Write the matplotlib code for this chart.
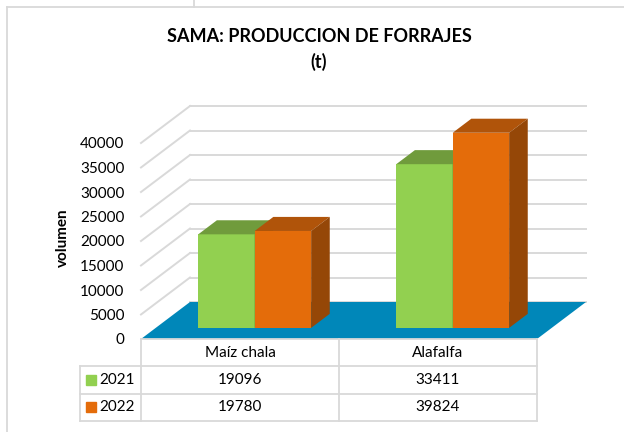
import numpy as np
import matplotlib.pyplot as plt
from matplotlib.patches import Polygon
from matplotlib.lines import Line2D

plt.rcParams['font.family'] = ['Lato', 'DejaVu Sans']

categories = ["Maíz chala", "Alafalfa"]
years = ["2021", "2022"]
values_2021 = [19096, 33411]
values_2022 = [19780, 39824]
yticks = list(range(0, 40001, 5000))

series = [values_2021, values_2022]
front_col = ["#92D050", "#E46C0A"]
top_col = ["#709B3C", "#B0540A"]
side_col = ["#5E8A2C", "#954707"]
grid_col = "#D9D9D9"

W, H = 624, 432
fig = plt.figure(figsize=(W / 100, H / 100), dpi=100)

# pixel -> data scales (floor front edge at y=339 px, 198 px per category)
px_x = 1 / 198
px_v = 40000 / 196
DX, DY = 49 * px_x, 37 * px_v

ax = fig.add_axes([141 / W, (H - 339) / H, (585 - 141) / W, (339 - 105) / H])
ax.set_xlim(-0.5, -0.5 + (585 - 141) * px_x)
ax.set_ylim(0, (339 - 105) * px_v)
for s in ax.spines.values():
    s.set_visible(False)
ax.set_xticks([])
ax.set_yticks(yticks)
ax.tick_params(axis="y", length=0, pad=12, labelsize=11)

# walls
n = len(categories)
for v in yticks:
    ax.plot([-0.5 + DX, n - 0.5 + DX], [v + DY, v + DY], color=grid_col, lw=1.4, zorder=1, clip_on=False)
    if v > 0:
        ax.plot([-0.5, -0.5 + DX], [v, v + DY], color=grid_col, lw=1.4, zorder=1, clip_on=False)

# floor
ax.add_patch(Polygon([(-0.5, 0), (n - 0.5, 0), (n - 0.5 + DX, DY), (-0.5 + DX, DY)],
                     closed=True, color="#0087B9", lw=0, zorder=2, clip_on=False))

# 3d columns
w = 0.285
f0, f1 = 0.30, 0.68
bd = f1 - f0
z = 3
for i in range(n):
    for s, vals in enumerate(series):
        val = vals[i]
        x0 = i - w + s * w + f0 * DX
        y0 = f0 * DY
        ax.bar(x0, val, w, bottom=y0, align="edge", color=front_col[s], lw=0, zorder=z, clip_on=False)
        top = [(x0, y0 + val), (x0 + w, y0 + val),
               (x0 + w + bd * DX, y0 + val + bd * DY), (x0 + bd * DX, y0 + val + bd * DY)]
        side = [(x0 + w, y0), (x0 + w, y0 + val),
                (x0 + w + bd * DX, y0 + val + bd * DY), (x0 + w + bd * DX, y0 + bd * DY)]
        ax.add_patch(Polygon(top, closed=True, color=top_col[s], lw=0, zorder=z, clip_on=False))
        ax.add_patch(Polygon(side, closed=True, color=side_col[s], lw=0, zorder=z, clip_on=False))
        z += 1

# data table
tab = fig.add_axes([80 / W, (H - 421) / H, (537 - 80) / W, (421 - 339) / H])
xmin = -0.5 - (141 - 80) * px_x
tab.set_xlim(xmin, n - 0.5)
tab.set_ylim(3, 0)
tab.axis("off")
lk = dict(color=grid_col, lw=1.3, clip_on=False)
for xv in np.arange(-0.5, n, 1.0):
    tab.plot([xv, xv], [0, 3], **lk)
tab.plot([xmin, xmin], [1, 3], **lk)
tab.plot([-0.5, n - 0.5], [0, 0], **lk)
for r in [1, 2, 3]:
    tab.plot([xmin, n - 0.5], [r, r], **lk)
for i, c in enumerate(categories):
    tab.text(i, 0.5, c, ha="center", va="center", fontsize=11)
    for s, vals in enumerate(series):
        tab.text(i, 1.5 + s, str(vals[i]), ha="center", va="center", fontsize=11)
for s, yr in enumerate(years):
    tab.plot(xmin + 11 * px_x, 1.5 + s, marker="s", ms=7, color=front_col[s], clip_on=False)
    tab.text(xmin + 19 * px_x, 1.5 + s, yr, ha="left", va="center", fontsize=11)

# titles
fig.text(319 / W, 1 - 37 / H, "SAMA: PRODUCCION DE FORRAJES", ha="center", va="center",
         fontsize=13, fontweight="bold")
fig.text(319 / W, 1 - 62 / H, "(t)", ha="center", va="center", fontsize=13, fontweight="bold")
fig.text(63 / W, 1 - 238 / H, "volumen", ha="center", va="center", rotation=90,
         fontsize=11, fontweight="bold")

# chart frame
fig.add_artist(Line2D([7 / W, 1], [1 - 7 / H, 1 - 7 / H], color=grid_col, lw=1.3))
fig.add_artist(Line2D([7 / W, 7 / W], [0, 1 - 7 / H], color=grid_col, lw=1.3))
fig.add_artist(Line2D([194 / W, 194 / W], [1, 1 - 7 / H], color=grid_col, lw=1.3))

plt.savefig("out.png", dpi=100)
